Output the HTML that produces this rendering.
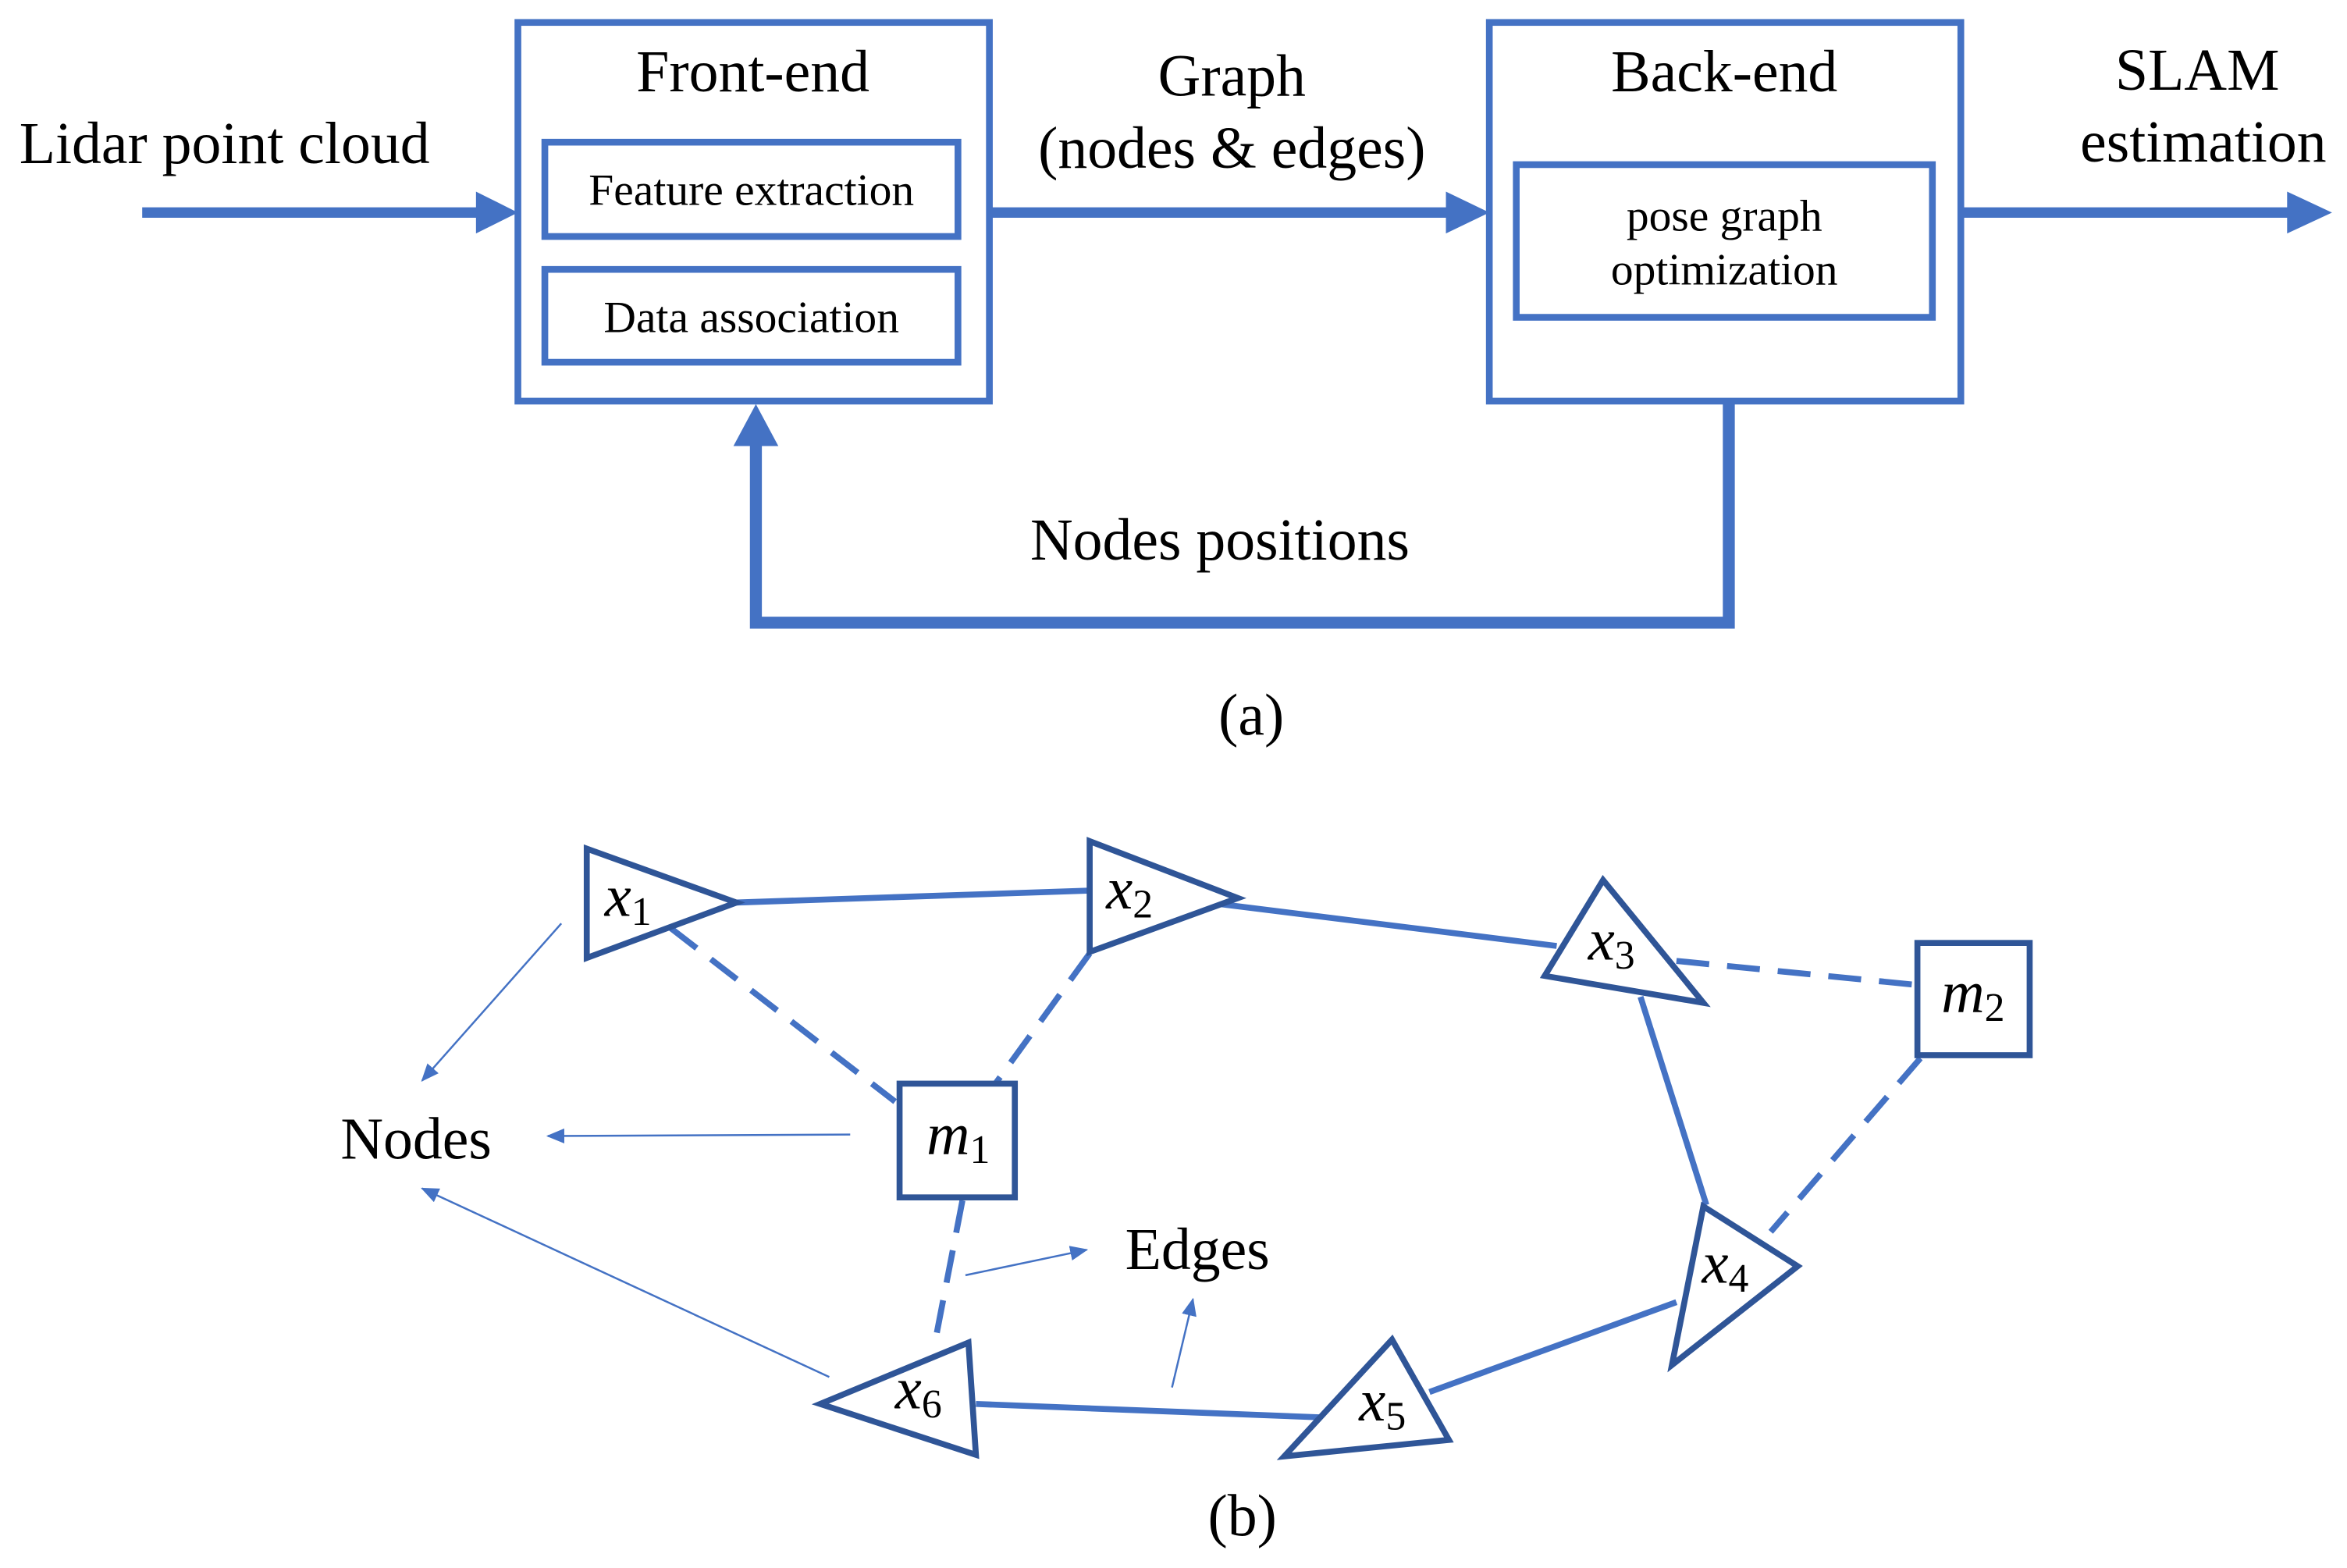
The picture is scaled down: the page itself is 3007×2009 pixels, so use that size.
<!DOCTYPE html>
<html><head><meta charset="utf-8"><style>
html,body{margin:0;padding:0;background:#fff;}
svg{display:block;}
text{font-family:"Liberation Serif",serif;fill:#000;}
.m{font-style:italic;}
</style></head><body>
<svg width="3007" height="2009" viewBox="0 0 1568 1047.6" xmlns="http://www.w3.org/2000/svg">
<defs>
<marker id="as" markerWidth="12" markerHeight="10" refX="11" refY="5" orient="auto" markerUnits="userSpaceOnUse"><path d="M0,0 L12,5 L0,10 Z" fill="#4472C4"/></marker>
</defs>
<g fill="none" stroke="#4472C4">
<line x1="95" y1="142" x2="320" y2="142" stroke-width="7"/>
<path d="M318,128 L346,142 L318,156 Z" fill="#4472C4" stroke="none"/>
<rect x="346" y="15" width="315" height="253" stroke-width="4.5"/>
<rect x="364" y="95" width="276" height="63" stroke-width="4.5"/>
<rect x="364" y="180" width="276" height="62" stroke-width="4.5"/>
<line x1="661" y1="142" x2="968" y2="142" stroke-width="7"/>
<path d="M966,128 L995,142 L966,156 Z" fill="#4472C4" stroke="none"/>
<rect x="995" y="15" width="315" height="253" stroke-width="4.5"/>
<rect x="1013" y="110" width="278" height="102" stroke-width="4.5"/>
<line x1="1310" y1="142" x2="1530" y2="142" stroke-width="7"/>
<path d="M1528,128 L1558,142 L1528,156 Z" fill="#4472C4" stroke="none"/>
<polyline points="1155,268 1155,416 505,416 505,296" stroke-width="8"/>
<path d="M490,298 L505,270 L520,298 Z" fill="#4472C4" stroke="none"/>
<g stroke-width="4">
<line x1="492" y1="603" x2="728" y2="595"/>
<line x1="815" y1="604" x2="1040" y2="632"/>
<line x1="1096" y1="666" x2="1140" y2="805"/>
<line x1="1120" y1="870" x2="955" y2="930"/>
<line x1="883" y1="947" x2="652" y2="938"/>
</g>
<g stroke-width="4" stroke-dasharray="22,12">
<line x1="448" y1="620" x2="598" y2="736"/>
<line x1="728" y1="637" x2="665" y2="724"/>
<line x1="1120" y1="642" x2="1280" y2="658"/>
<line x1="1283" y1="707" x2="1183" y2="823"/>
<line x1="643" y1="802" x2="625" y2="895"/>
</g>
<g stroke-width="1.3">
<line x1="375" y1="617" x2="282" y2="722" marker-end="url(#as)"/>
<line x1="568" y1="758" x2="366" y2="759" marker-end="url(#as)"/>
<line x1="554" y1="920" x2="282" y2="794" marker-end="url(#as)"/>
<line x1="645" y1="852" x2="726" y2="835" marker-end="url(#as)"/>
<line x1="783" y1="927" x2="797" y2="868" marker-end="url(#as)"/>
</g>
<g stroke="#2F5597" stroke-width="4" fill="#fff" stroke-linejoin="miter">
<polygon points="392,567 392,640 492,603"/>
<polygon points="728,562 728,636 827,600"/>
<polygon points="1071,588 1032,652 1138,670"/>
<polygon points="1138,806 1117,912 1201,846"/>
<polygon points="858,973 968,962 930,895"/>
<polygon points="548,938 647,897 652,972"/>
<rect x="601" y="724" width="77" height="76"/>
<rect x="1281" y="630" width="75" height="75"/>
</g>
</g>
<g font-size="39.5" text-anchor="middle">
<text x="150" y="109">Lidar point cloud</text>
<text x="503" y="61">Front-end</text>
<text x="823" y="64">Graph</text>
<text x="823" y="112">(nodes &amp; edges)</text>
<text x="1152" y="61">Back-end</text>
<text x="1468" y="60">SLAM</text>
<text x="1472" y="108">estimation</text>
<text x="815" y="374">Nodes positions</text>
<text x="836" y="491">(a)</text>
<text x="278" y="774">Nodes</text>
<text x="800" y="848">Edges</text>
<text x="830" y="1026">(b)</text>
</g>
<g font-size="30" text-anchor="middle">
<text x="502" y="137">Feature extraction</text>
<text x="502" y="222">Data association</text>
<text x="1152" y="154">pose graph</text>
<text x="1152" y="190">optimization</text>
</g>
<g font-size="40">
<text x="404" y="612"><tspan class="m">x</tspan><tspan font-size="27" dy="6">1</tspan></text>
<text x="739" y="607"><tspan class="m">x</tspan><tspan font-size="27" dy="6">2</tspan></text>
<text x="1061" y="641"><tspan class="m">x</tspan><tspan font-size="27" dy="6">3</tspan></text>
<text x="1137" y="857"><tspan class="m">x</tspan><tspan font-size="27" dy="6">4</tspan></text>
<text x="908" y="949"><tspan class="m">x</tspan><tspan font-size="27" dy="6">5</tspan></text>
<text x="598" y="941"><tspan class="m">x</tspan><tspan font-size="27" dy="6">6</tspan></text>
<text x="619" y="771"><tspan class="m">m</tspan><tspan font-size="27" dy="6">1</tspan></text>
<text x="1297" y="676"><tspan class="m">m</tspan><tspan font-size="27" dy="6">2</tspan></text>
</g>
</svg>
</body></html>
